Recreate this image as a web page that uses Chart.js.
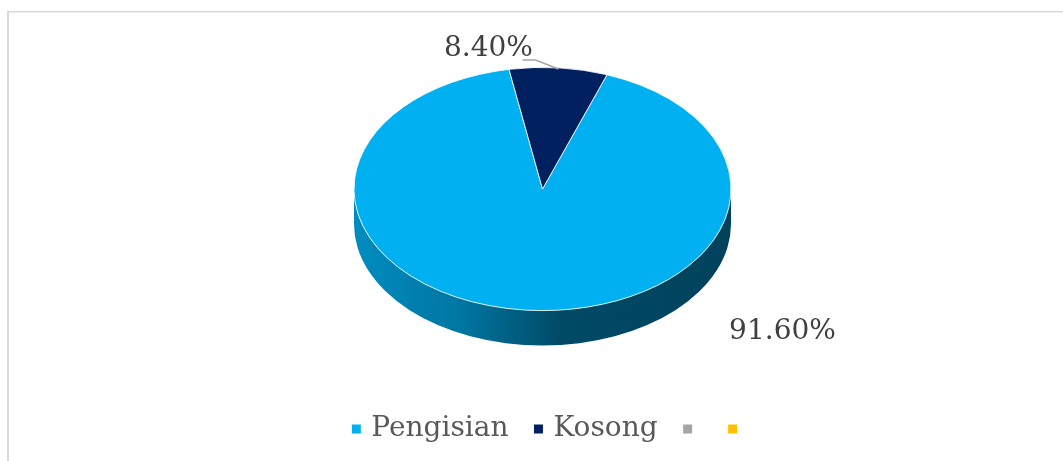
<!DOCTYPE html>
<html><head><meta charset="utf-8">
<style>html,body{margin:0;padding:0;background:#fff;overflow:hidden}#w{position:relative;width:1063px;height:461px}</style>
<script src="https://cdn.jsdelivr.net/npm/chart.js@4"></script>
</head><body><div id="w"><canvas id="c" width="1063" height="461"></canvas></div>
<script>
const categories = ['Pengisian', 'Kosong', '', ''];
const values = [91.6, 8.4, 0, 0];
const valueLabels = ['91.60%', '8.40%'];
const colors = ['#00B0F0', '#002060', '#A5A5A5', '#FFC000'];
const FONT = '"DejaVu Serif"';
const TILT = 0.645, DEPTH = 35, CENTER_Y = 189;

function center(chart){ return chart.getDatasetMeta(0).data[0]; }
const pie3d = {
  id: 'pie3d',
  afterLayout(chart){
    chart.legend.left += 9;
    chart.legend.right += 9;
  },
  beforeDraw(chart){
    const c = chart.ctx; c.save();
    c.fillStyle = '#d9d9d9';
    c.fillRect(7, 11, 1056, 1.5);
    c.fillRect(7, 11, 2, 450);
    c.restore();
  },
  beforeDatasetsDraw(chart){
    const a = center(chart), c = chart.ctx, r = a.outerRadius, ry = r * TILT;
    c.save();
    const g = c.createLinearGradient(a.x - r, 0, a.x + r, 0);
    g.addColorStop(0, '#008CC0');
    g.addColorStop(0.28, '#0076A2');
    g.addColorStop(0.55, '#004A66');
    g.addColorStop(1, '#00425C');
    c.fillStyle = g;
    c.beginPath();
    c.ellipse(a.x, CENTER_Y, r, ry, 0, 0, Math.PI);
    c.lineTo(a.x - r, CENTER_Y + DEPTH);
    c.ellipse(a.x, CENTER_Y + DEPTH, r, ry, 0, Math.PI, 0, true);
    c.closePath();
    c.fill();
    c.restore();
    c.save();
    c.translate(a.x, CENTER_Y);
    c.scale(1, TILT);
    c.translate(-a.x, -a.y);
  },
  afterDatasetsDraw(chart){
    chart.ctx.restore();
    const a = center(chart), c = chart.ctx;
    c.save();
    c.strokeStyle = '#A6A6A6'; c.lineWidth = 1.5;
    c.beginPath(); c.moveTo(a.x - 20, CENTER_Y - 129); c.lineTo(a.x - 7, CENTER_Y - 129); c.lineTo(a.x + 16, CENTER_Y - 120); c.stroke();
    c.fillStyle = '#404040';
    c.font = '28px ' + FONT;
    c.textBaseline = 'alphabetic'; c.textAlign = 'center';
    c.fillText(valueLabels[0], a.x + 240, CENTER_Y + 150);
    c.fillText(valueLabels[1], a.x - 54, CENTER_Y - 133);
    c.restore();
  }
};
new Chart(document.getElementById('c'), {
  type: 'pie',
  data: { labels: categories, datasets: [{ data: values, backgroundColor: colors, borderColor: '#ffffff', borderWidth: 1 }] },
  options: {
    responsive: false, animation: false, rotation: 20,
    layout: { padding: { top: 8, bottom: 8, left: 22, right: 0 } },
    plugins: {
      tooltip: { enabled: false },
      legend: { position: 'bottom', labels: { usePointStyle: true, pointStyle: 'rect', boxWidth: 2, boxHeight: 10, padding: 29, color: '#595959', font: { family: FONT, size: 28 } } }
    }
  },
  plugins: [pie3d]
});
</script></body></html>
